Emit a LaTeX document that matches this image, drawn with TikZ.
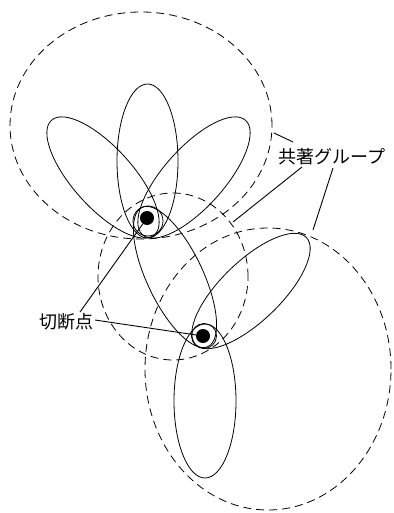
\documentclass[tikz,border=0pt]{standalone}
\usepackage{fontspec}
\newfontfamily\jp{Noto Sans CJK JP}
\begin{document}
\begin{tikzpicture}[x=1pt,y=-1pt,
  petal/.style={draw=black,line width=0.8pt},
  group/.style={draw=black,line width=0.8pt,dash pattern=on 8pt off 5pt},
  leader/.style={draw=black,line width=0.9pt},
  cutdot/.style={circle,fill=black,inner sep=0pt,minimum size=14pt},
  ring/.style={circle,draw=black,line width=0.8pt,inner sep=0pt},
  lbl/.style={font=\jp\fontsize{18}{18}\selectfont,inner sep=0pt}]
\useasboundingbox (0,0) rectangle (393,513);
% groups (dashed)
\draw[group] (141,125.5) ellipse [x radius=131pt, y radius=113.5pt];
\draw[group] (173,276.5) ellipse [x radius=75pt, y radius=83.5pt];
\draw[group] (268,369) ellipse [x radius=123pt, y radius=141pt];
% top flower
\draw[petal] (147.5,161) ellipse [x radius=30.5pt, y radius=77pt];
\draw[petal,rotate around={42:(103,177.5)}] (103,177.5) ellipse [x radius=30pt, y radius=77pt];
\draw[petal,rotate around={-42:(194,177.5)}] (194,177.5) ellipse [x radius=30pt, y radius=77pt];
% middle link
\draw[petal,rotate around={25.4:(175,277)}] (175,277) ellipse [x radius=28pt, y radius=77pt];
% bottom group
\draw[petal] (205,401) ellipse [x radius=31pt, y radius=77pt];
\draw[petal,rotate around={-46:(251,291)}] (251,291) ellipse [x radius=30pt, y radius=77pt];
% cut points
\node[ring,minimum size=30pt] (ring1) at (148,221) {};
\node[cutdot] (dot1) at (147,218) {};
\node[ring,minimum size=25pt] (ring2) at (204,336) {};
\node[cutdot] (dot2) at (203,336) {};
% labels
\node[lbl] (grp) at (332,157) {共著グループ};
\node[lbl] (cut) at (66,322) {切断点};
\coordinate (g1) at (293,142);
\coordinate (g2) at (302,167);
\coordinate (g3) at (333,168);
\coordinate (e1) at (274,133);
\coordinate (e2) at (233,222);
\coordinate (e3) at (313,230);
\coordinate (c1) at (80,312);
\coordinate (c2) at (95,320);
\draw[leader] (g1) -- (e1);
\draw[leader] (g2) -- (e2);
\draw[leader] (g3) -- (e3);
\draw[leader] (c1) -- (dot1);
\draw[leader] (c2) -- (dot2);
\end{tikzpicture}
\end{document}
